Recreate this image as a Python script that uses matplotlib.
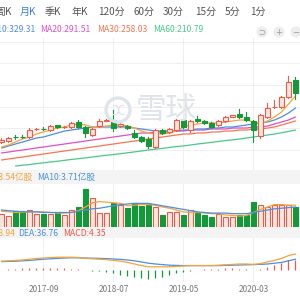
import matplotlib
matplotlib.use('Agg')
import matplotlib.pyplot as plt
import numpy as np
from matplotlib.patches import Circle, Rectangle

# ---------------- data ----------------
months = ['2017-03','2017-04','2017-05','2017-06','2017-07','2017-08','2017-09','2017-10','2017-11','2017-12',
          '2018-01','2018-02','2018-03','2018-04','2018-05','2018-06','2018-07','2018-08','2018-09','2018-10',
          '2018-11','2018-12','2019-01','2019-02','2019-03','2019-04','2019-05','2019-06','2019-07','2019-08',
          '2019-09','2019-10','2019-11','2019-12','2020-01','2020-02','2020-03','2020-04','2020-05','2020-06',
          '2020-07','2020-08','2020-09']
opens  = [162.5,167,187,187,185,219,223,216.5,237,228,230,252.5,230,194,234.5,259,261.5,234.5,234.5,203,
          185,176,140,216.5,207.5,216.5,261.5,216.5,266,257,248,239,257,277,288.5,275,257,189.5,275,318,
          320,365,441.5]
highs  = [180.5,185,194,194,225.5,225.5,228,239,239,234.5,252.5,261.5,234.5,225.5,266,266,306.5,248,239,216.5,
          189.5,185,221,221,225.5,266,266,261.5,279.5,261.5,252.5,261.5,279.5,284,311,297.5,261.5,288.5,338,351.5,
          369.5,459.5,455]
lows   = [158,162.5,176,180,180.5,216.5,216.5,212,225.5,225.5,225.5,225.5,185,189.5,230,257,212,230,221,180.5,
          162.5,135.5,135.5,198.5,203,212,225.5,207.5,252.5,243.5,225.5,234.5,252.5,275,270.5,257,162.5,180.5,270.5,315.5,
          315.5,360.5,356]
closes = [171.5,180.5,183,183,216.5,221,219,234.5,230,230,248,230,203,221,257,261.5,225.5,243.5,225.5,185,
          167,144.5,216.5,203,221,261.5,230,257,257,248,230,257,275,282,275,261.5,216.5,284,315.5,322,
          365,432.5,383]
ma5  = [140,149,162.5,176,185,198.5,207.5,216.5,225.5,230,239,243.5,239,230,230,234.5,239,239,234.5,225.5,
        212,203,198.5,198.5,203,212,230,239,243.5,248,248,248,252.5,257,261.5,261.5,252.5,243.5,257,275,
        297.5,333.5,369.5]
ma10 = [135.5,144.5,153.5,162.5,171.5,180.5,185,194,203,212,216.5,221,225.5,230,230,230,230,230,230,225.5,
        221,216.5,212,212,212,212,216.5,216.5,221,221,225.5,225.5,230,230,234.5,239,243.5,248,252.5,261.5,
        275,293,315.5]
ma20 = [113,117.5,122,126.5,131,135.5,140,144.5,149,153.5,158,162.5,167,171.5,176,180.5,185,189.5,194,198.5,
        203,203,207.5,207.5,207.5,212,212,216.5,216.5,216.5,221,221,221,225.5,225.5,225.5,230,230,234.5,243.5,
        252.5,261.5,275]
ma30 = [81.5,86,90.5,95,99.5,104,108.5,113,117.5,122,126.5,131,135.5,140,144.5,149,153.5,158,162.5,167,
        171.5,176,180.5,185,189.5,194,198.5,198.5,203,203,207.5,207.5,212,212,216.5,216.5,221,221,225.5,230,
        239,248,257]
ma60 = [np.nan,np.nan,54.5,58,61,65,69,72.5,76,80,84,87.5,91,95,99,103,106,110,114,118,
        122,126.5,130,134,138,142,145,149,153.5,157,161,165,169,172,176,180.5,185,189.5,194,198.5,
        204,210,216.5]
volume = [2.15,1.82,2.64,2.64,2.81,2.15,2.15,2.15,2.31,1.98,2.81,3.30,6.27,4.79,2.31,2.31,3.96,3.63,3.14,3.96,
          3.47,3.80,3.30,1.98,2.48,2.48,1.98,2.81,2.31,1.98,1.65,2.15,1.65,1.65,1.98,1.98,4.13,3.63,3.30,3.63,
          3.63,3.63,3.30]
vol_ma5  = [2.6,2.5,2.4,2.4,2.5,2.5,2.5,2.4,2.3,2.3,2.4,2.7,3.3,4.0,4.2,4.1,4.0,3.9,3.5,3.6,
            3.7,3.7,3.6,3.3,3.1,2.8,2.5,2.4,2.4,2.3,2.2,2.2,2.0,1.9,1.8,1.9,2.4,2.9,3.3,3.7,
            3.7,3.6,3.6]
vol_ma10 = [2.8,2.7,2.6,2.5,2.5,2.5,2.4,2.4,2.4,2.4,2.4,2.6,2.8,3.0,3.1,3.3,3.5,3.7,3.8,3.9,
            3.9,3.9,3.7,3.5,3.3,3.1,2.9,2.7,2.5,2.4,2.3,2.3,2.3,2.2,2.2,2.2,2.4,2.6,2.8,3.0,
            3.1,3.2,3.3]
dif = [22,23,24,25,27,29,30,31,32,32,32,31,29,28,27,26,24,22,19,15,
       11,8,8,8,8,9,10,11,11,11,11,12,13,14,15,15,14,16,20,24,
       29,36,40]
dea = [21,21.5,22,23,24,25.5,27,28,29,30,30.5,30.5,30,29.5,29,28.5,27.5,26.5,25,23,
       20,17,15,13.5,12,11.5,11,11,11,11,11,11,11.5,12,12.5,13,13.5,14,15,17,
       19,23,27]
macd = [0,2,3,4,5,5,6,6,5,4,3,2,-1,-2,-3,-5,-8,-12,-15,-18,
        -21,-23,-20,-17,-13,-8,-5,-2,1,2,2,3,4,4,3,2,-1,3,8,13,
        18,24,26]
tab_labels = ['周K','月K','季K','年K','120分','60分','30分','15分','5分','1分']
tick_idx = [6,16,26,36]

# ---------------- style ----------------
RED = '#ec5a48'
RED_FILL = '#fde6e2'
GREEN = '#14993a'
C_MA5 = '#f6a33a'
C_MA10 = '#4a8fe0'
C_MA20 = '#e04fc4'
C_MA30 = '#f8754f'
C_MA60 = '#48c98a'
GRID = '#efefef'
BAND = '#f4f4f5'
FONT = ['Noto Sans CJK SC', 'DejaVu Sans']
plt.rcParams['font.family'] = FONT

fig = plt.figure(figsize=(3, 3), dpi=100)
fig.patch.set_facecolor('white')

def add_ax(ytop, ybot):
    ax = fig.add_axes([0, 1 - ybot / 300, 1, (ybot - ytop) / 300])
    ax.set_facecolor('none')
    for s in ax.spines.values():
        s.set_visible(False)
    ax.set_xlim(-1.5 / 7, 298.5 / 7)
    ax.tick_params(length=0, labelleft=False, labelbottom=False)
    ax.set_yticks([])
    for t in tick_idx:
        ax.axvline(t, color=GRID, lw=0.7, zorder=0)
    return ax

def band(ytop, ybot):
    fig.patches.append(Rectangle((0, 1 - ybot / 300), 1, (ybot - ytop) / 300,
                                 transform=fig.transFigure, facecolor=BAND, edgecolor='none', zorder=0))

band(170, 184)
band(227, 238)

x = np.arange(len(opens))
w = 0.7

# ---------------- main panel ----------------
ax = add_ax(38, 170)
ax.set_ylim(36.5, 630.5)
for k in range(6):
    ax.axhline(126.5 + 97.5 * k, color=GRID, lw=0.7, zorder=0)

# watermark
WM = '#dfe4eb'
fig.text(166 / 300, 1 - 110 / 300, '雪球', fontsize=22, color=WM, ha='center', va='center',
         family=FONT, zorder=0.5)
fig.patches.append(Circle((118 / 300, 1 - 110 / 300), 12 / 300, transform=fig.transFigure,
                          facecolor='none', edgecolor=WM, lw=2.4, zorder=0.5))
fig.text(118 / 300, 1 - 110.5 / 300, 'ⵋ', fontsize=10, color=WM, ha='center', va='center',
         family=['DejaVu Sans'], zorder=0.5)

for lst, c in [(ma60, C_MA60), (ma30, C_MA30), (ma20, C_MA20), (ma10, C_MA10), (ma5, C_MA5)]:
    ax.plot(x, lst, color=c, lw=0.9, zorder=2, solid_capstyle='round')

for i in range(len(opens)):
    o, h, l, c = opens[i], highs[i], lows[i], closes[i]
    up = c >= o
    col = RED if up else GREEN
    top, bot = max(o, c), min(o, c)
    ax.plot([i, i], [top, h], color=col, lw=0.8, zorder=3)
    ax.plot([i, i], [l, bot], color=col, lw=0.8, zorder=3)
    hgt = max(top - bot, 1.5)
    ax.bar(i, hgt, bottom=bot, width=w, color=RED_FILL if up else GREEN,
           edgecolor=col, linewidth=0.8, zorder=4)

# legend row
leg = [('MA10:329.31', C_MA10, 35, 'right'), ('MA20:291.51', C_MA20, 40, 'left'),
       ('MA30:258.03', C_MA30, 97, 'left'), ('MA60:210.79', C_MA60, 153, 'left')]
for txt, c, px, ha in leg:
    fig.text(px / 300, 1 - 30 / 300, txt, color=c, fontsize=6.2, ha=ha, va='center', family=FONT)

# icons top right
for cx, sym in [(262, '⊃'), (279, '+'), (296, '−')]:
    fig.patches.append(Circle((cx / 300, 1 - 32 / 300), 5.5 / 300, transform=fig.transFigure,
                              facecolor='#ededed', edgecolor='none'))
    fig.text(cx / 300, 1 - 32.5 / 300, sym, fontsize=6, color='#9a9a9a', ha='center', va='center',
             family=['DejaVu Sans'])

# tabs
tab_x = [12, 20, 45, 72, 98, 133, 163, 195, 225, 250]
for j, (lab, px) in enumerate(zip(tab_labels, tab_x)):
    fig.text(px / 300, 1 - 12 / 300, lab, fontsize=7.2, color='#3a7de0' if lab == '月K' else '#555555',
             ha='right' if j == 0 else 'left', va='center', family=FONT)

# ---------------- volume panel ----------------
axv = add_ax(184, 227)
axv.set_ylim(0, 7.1)
for i in range(len(volume)):
    up = closes[i] >= opens[i]
    axv.bar(i, volume[i], width=w, color=RED_FILL if up else GREEN,
            edgecolor=RED if up else GREEN, linewidth=0.8, zorder=3)
axv.plot(x, vol_ma5, color=C_MA5, lw=0.9, zorder=4)
axv.plot(x, vol_ma10, color=C_MA10, lw=0.9, zorder=4)
fig.text(32 / 300, 1 - 177.5 / 300, 'MA5:3.54亿股', color=C_MA5, fontsize=6.2, ha='right', va='center', family=FONT)
fig.text(37 / 300, 1 - 177.5 / 300, 'MA10:3.71亿股', color=C_MA10, fontsize=6.2, ha='left', va='center', family=FONT)

# ---------------- MACD panel ----------------
axm = add_ax(238, 282)
axm.set_ylim(-30, 80)
mcol = [RED if v >= 0 else GREEN for v in macd]
axm.vlines(x, 0, macd, colors=mcol, lw=0.9, zorder=3)
axm.plot(x, dea, color=C_MA10, lw=0.9, zorder=4)
axm.plot(x, dif, color=C_MA5, lw=0.9, zorder=4)
fig.text(15 / 300, 1 - 233 / 300, 'DIF:38.94', color=C_MA5, fontsize=6.2, ha='right', va='center', family=FONT)
fig.text(18 / 300, 1 - 233 / 300, 'DEA:36.76', color=C_MA10, fontsize=6.2, ha='left', va='center', family=FONT)
fig.text(63 / 300, 1 - 233 / 300, 'MACD:4.35', color=RED, fontsize=6.2, ha='left', va='center', family=FONT)

# x tick labels
for t in tick_idx:
    axm.text(t, -0.18, months[t], transform=axm.get_xaxis_transform(), fontsize=6, color='#777777',
             ha='center', va='center', family=FONT)

fig.savefig('out.png', dpi=100, facecolor='white')
